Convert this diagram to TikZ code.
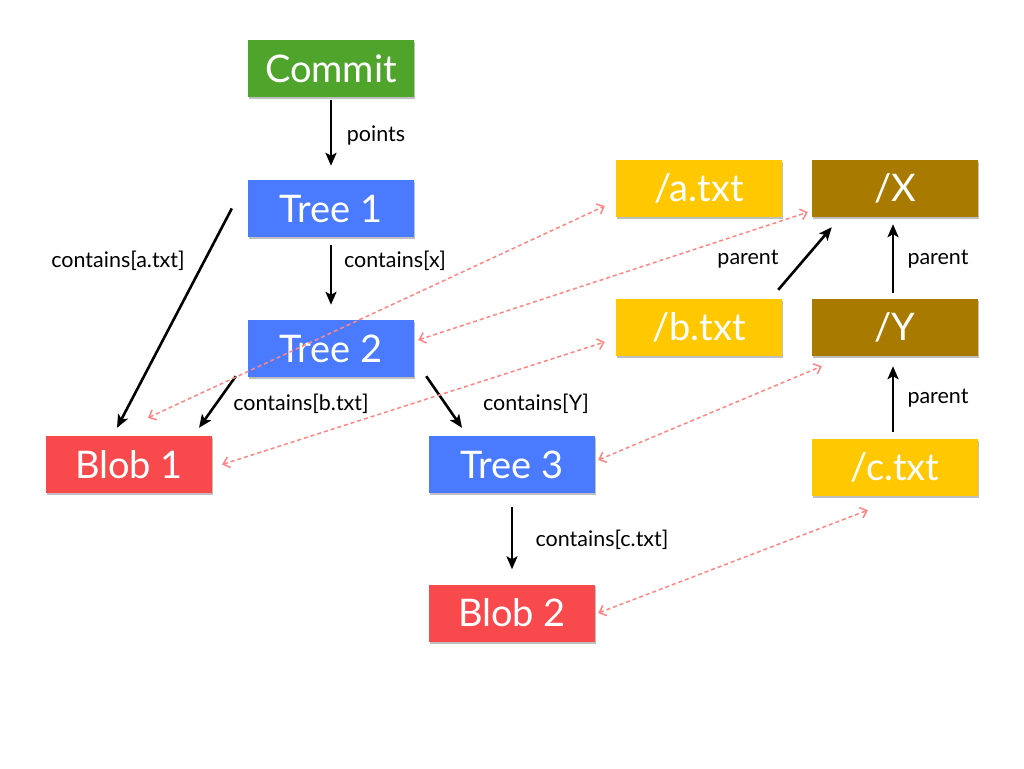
\documentclass[tikz,border=0pt]{standalone}
\usepackage{fontspec}
\setmainfont{Lato}
\usetikzlibrary{arrows.meta,shadows}
\definecolor{cgreen}{HTML}{4FA52B}
\definecolor{cblue}{HTML}{4A7BFF}
\definecolor{cred}{HTML}{F84A4C}
\definecolor{cyel}{HTML}{FFC800}
\definecolor{cbrown}{HTML}{A87A00}
\definecolor{cpink}{HTML}{FF8585}
\tikzset{
  box/.style={minimum width=166pt, minimum height=57pt, inner sep=0pt, text=white,
    font=\fontsize{38}{42}\selectfont,
    drop shadow={shadow xshift=0.5pt, shadow yshift=-2pt, opacity=0.25, fill=black}},
  lab/.style={font=\fontsize{21.5}{24}\selectfont, text=black, inner sep=0pt},
  blk/.style={line width=2.6pt, -{Stealth[length=13pt,width=11pt,inset=3pt]}},
  lnk/.style={cpink, line width=1.5pt, dash pattern=on 4pt off 3pt,
    {Straight Barb[length=6pt,width=11pt]}-{Straight Barb[length=6pt,width=11pt]}},
}
\begin{document}
\begin{tikzpicture}[x=1pt,y=-1pt]
\useasboundingbox[fill=white] (0,0) rectangle (1024,768);
% nodes
\node[box, fill=cgreen] (commit) at (331,68.5) {Commit};
\node[box, fill=cblue] (tree1) at (331,208.5) {Tree 1};
\node[box, fill=cblue] (tree2) at (331,348.5) {Tree 2};
\node[box, fill=cred] (blob1) at (129,464.5) {Blob 1};
\node[box, fill=cblue] (tree3) at (512,464.5) {Tree 3};
\node[box, fill=cred] (blob2) at (512,613) {Blob 2};
\node[box, fill=cyel] (atxt) at (699,188.5) {/a.txt};
\node[box, fill=cbrown] (X) at (895,188.5) {/X};
\node[box, fill=cyel] (btxt) at (699,327.5) {/b.txt};
\node[box, fill=cbrown] (Y) at (895,327.5) {/Y};
\node[box, fill=cyel] (ctxt) at (895,467.5) {/c.txt};
% black arrows
\draw[blk] ([shift={(0,3)}]commit.south) -- ([shift={(0,-14)}]tree1.north);
\draw[blk] ([shift={(-16,0)}]tree1.west) -- ([shift={(-12,-8)}]blob1.north);
\draw[blk] ([shift={(0,8)}]tree1.south) -- ([shift={(0,-15)}]tree2.north);
\draw[blk] ([shift={(-12,-1)}]tree2.south west) -- ([shift={(70,-8)}]blob1.north);
\draw[blk] ([shift={(12,-1)}]tree2.south east) -- ([shift={(-50,-8)}]tree3.north);
\draw[blk] ([shift={(0,14)}]tree3.south) -- ([shift={(0,-15)}]blob2.north);
\draw[blk] ([shift={(-4,-9)}]btxt.north east) -- ([shift={(20,10)}]X.south west);
\draw[blk] ([shift={(-2,-6)}]Y.north) -- ([shift={(-2,7)}]X.south);
\draw[blk] ([shift={(-2,-7)}]ctxt.north) -- ([shift={(-2,10)}]Y.south);
% labels
\node[lab] (l1) at (376,135) {points};
\node[lab] (l2) at (118,261) {contains[a.txt]};
\node[lab] (l3) at (395,261) {contains[x]};
\node[lab] (l4) at (301,404) {contains[b.txt]};
\node[lab] (l5) at (536,404) {contains[Y]};
\node[lab] (l6) at (602,540) {contains[c.txt]};
\node[lab] (l7) at (748,259) {parent};
\node[lab] (l8) at (938,259) {parent};
\node[lab] (l9) at (938,398) {parent};
% dashed links
\draw[lnk] ([shift={(19,-18)}]blob1.north) -- ([shift={(-11,17.5)}]atxt.west);
\draw[lnk] ([shift={(4,-8.5)}]tree2.east) -- ([shift={(-4,-5)}]X.south west);
\draw[lnk] ([shift={(10,0)}]blob1.east) -- ([shift={(-11,14.5)}]btxt.west);
\draw[lnk] ([shift={(3,-4.5)}]tree3.east) -- ([shift={(10,10)}]Y.south west);
\draw[lnk] ([shift={(3,0)}]blob2.east) -- ([shift={(56,14)}]ctxt.south west);
\end{tikzpicture}
\end{document}
